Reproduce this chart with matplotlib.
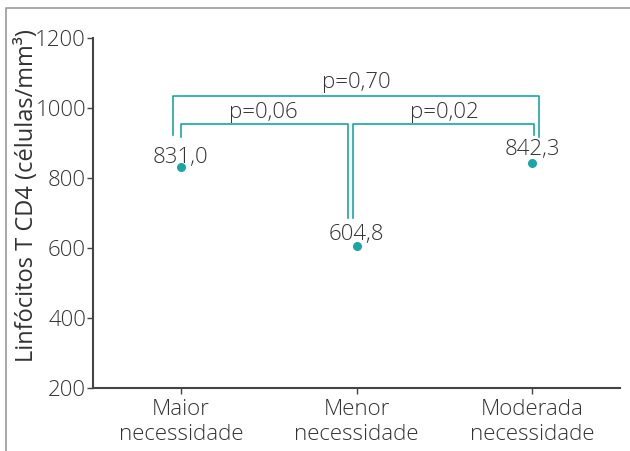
import numpy as np
import matplotlib.pyplot as plt
from matplotlib.lines import Line2D

plt.rcParams['font.family'] = ['Open Sans', 'DejaVu Sans']
plt.rcParams['font.weight'] = 'light'

categories = ['Maior\nnecessidade', 'Menor\nnecessidade', 'Moderada\nnecessidade']
values = [831.0, 604.8, 842.3]
value_labels = ['831,0', '604,8', '842,3']
yticks = [200, 400, 600, 800, 1000, 1200]

teal = '#1aa6a6'
dark = '#333333'
fs = 16

fig = plt.figure(figsize=(6.3, 4.51), dpi=100)
ax = fig.add_axes([93/630, 1-388/451, (620-93)/630, 350/451])

x = np.arange(len(categories))
ax.scatter(x, values, s=30, color=teal, zorder=3)

# value labels
ax.text(0, 860, value_labels[0], ha='center', va='center', fontsize=fs, color=dark)
ax.text(1, 609, value_labels[1], ha='center', va='bottom', fontsize=fs, color=dark)
ax.text(2, 880, value_labels[2], ha='center', va='center', fontsize=fs, color=dark)

# brackets
lw = 1.2
ax.plot([-0.045, -0.045, 2.04, 2.04], [923, 1034, 1034, 918], color=teal, lw=lw)
ax.plot([0.0, 0.0, 0.95, 0.95], [918, 954, 954, 686], color=teal, lw=lw)
ax.plot([0.98, 0.98, 2.01, 2.01], [686, 954, 954, 923], color=teal, lw=lw)
ax.text(1.0, 1043, 'p=0,70', ha='center', va='bottom', fontsize=fs, color=dark)
ax.text(0.47, 958, 'p=0,06', ha='center', va='bottom', fontsize=fs, color=dark)
ax.text(1.5, 958, 'p=0,02', ha='center', va='bottom', fontsize=fs, color=dark)

ax.set_xlim(-0.5, 2.5)
ax.set_ylim(200, 1200)
ax.set_xticks(x)
ax.set_xticklabels(categories, fontsize=fs, color=dark, linespacing=1.25)
ax.set_yticks(yticks)
ax.set_yticklabels([str(t) for t in yticks], fontsize=fs, color=dark)
ax.tick_params(axis='both', direction='out', length=4, width=1, color='#444444', pad=1)
ax.tick_params(axis='x', pad=4)
for s in ['top', 'right']:
    ax.spines[s].set_visible(False)
for s in ['left', 'bottom']:
    ax.spines[s].set_color('#444444')
    ax.spines[s].set_linewidth(1.5)
ax.set_ylabel('Linfócitos T CD4 (células/mm³)', fontsize=17, color=dark)
ax.yaxis.set_label_coords(-0.102, 0.55)

# frame around figure (top and left)
fig.add_artist(Line2D([6/630, 6/630, 1], [0, 1-8/451, 1-8/451], color='#999999', lw=1.2,
                      transform=fig.transFigure))

fig.savefig('out.png', dpi=100)
